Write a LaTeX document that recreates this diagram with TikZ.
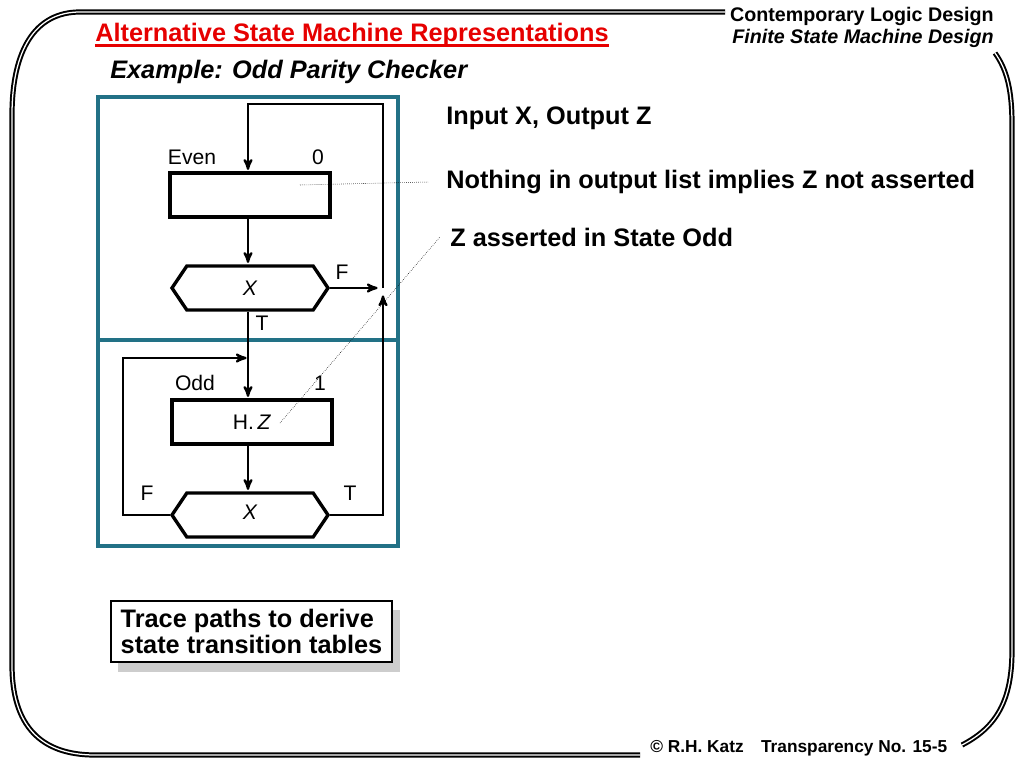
\documentclass[tikz,border=0pt]{standalone}
\usepackage{fontspec}
\setmainfont{Liberation Sans}
\usetikzlibrary{arrows,positioning,shapes.symbols}
\definecolor{boxteal}{RGB}{34,113,134}
\definecolor{titlered}{RGB}{230,0,0}
\definecolor{shadowgray}{RGB}{205,205,205}

\begin{document}
\begin{tikzpicture}[x=0.025cm,y=-0.025cm,>=stealth',
    state box/.style={draw,line width=2.4pt,minimum width=4cm,minimum height=1.1cm,inner sep=0pt,
                      font=\fontsize{15}{16}\selectfont},
    test node/.style={signal,signal to=west and east,signal pointer angle=112,draw,line width=2.4pt,
                      minimum width=3.9cm,minimum height=1.1cm,inner sep=0pt,font=\fontsize{15}{16}\selectfont\itshape},
    flow/.style={line width=1.6pt,shorten >=1pt},
    note/.style={densely dotted,thin},
    big text/.style={font=\fontsize{18}{21}\selectfont\bfseries,anchor=west,inner sep=0pt},
    lbl/.style={font=\fontsize{15}{16}\selectfont,inner sep=0pt},
    frame line/.style={line width=1.4pt,double=white,double distance=0.9pt}]

  \useasboundingbox (0,0) rectangle (1024,768);

  % slide frame
  \draw[frame line] (725,12) -- (80,12) .. controls (35,12) and (12,50) .. (12,115)
      -- (12,665) .. controls (12,725) and (40,755) .. (95,755) -- (640,755);
  \draw[frame line] (995,53) .. controls (1007,70) and (1012,90) .. (1012,125)
      -- (1012,650) .. controls (1012,700) and (997,727) .. (962,745);

  % header, title, footer
  \node[font=\fontsize{14}{15.6}\selectfont\bfseries,align=right,anchor=north east,inner sep=0pt] (hdr) at (994,7)
      {Contemporary Logic Design\\{\itshape Finite State Machine Design}};
  \node[big text,text=titlered] (title) at (95,35) {Alternative State Machine Representations};
  \draw[titlered,line width=1.5pt] ([yshift=0.04cm]title.south west) -- ([yshift=0.04cm]title.south east);
  \node[big text,font=\fontsize{18}{21}\selectfont\bfseries\itshape] (example) at (110,72) {Example: Odd Parity Checker};
  \node[font=\fontsize{12.3}{14}\selectfont\bfseries,anchor=west,inner sep=0pt] (foot) at (650,748)
      {© R.H. Katz\hspace{1em}Transparency No. 15-5};

  % state blocks
  \draw[boxteal,line width=2.4pt] (98,97) rectangle (398,340);
  \draw[boxteal,line width=2.4pt] (98,340) rectangle (398,546);

  \node[state box] (evenbox) at (250,195) {};
  \node[test node] (hexE) at (250,288) {X};
  \node[state box] (oddbox) at (252,422) {H.\,\textit{Z}};
  \node[test node] (hexO) at (250,515) {\raisebox{0.12cm}{X}};

  \node[lbl] (evenname) at (192,157) {Even};
  \node[lbl] (evenout) at (318,157) {0};
  \node[lbl] (oddname) at (195,383) {Odd};
  \node[lbl] (oddout) at (320,383) {1};
  \node[lbl] (fE) at (342,272) {F};
  \node[lbl] (tE) at (262,323) {T};
  \node[lbl] (fO) at (147,493) {F};
  \node[lbl] (tO) at (350,493) {T};

  \coordinate (jn) at (383,288);
  \coordinate (topL) at (248,104);
  \coordinate (lp) at (123,358);
  \coordinate (lm) at (248,358);

  \draw[flow,->] (hexE.east) -- ([xshift=-0.1cm]jn);
  \draw[flow,->] (hexO.east) -| ([yshift=-0.15cm]jn);
  \draw[flow,->] (jn) |- (topL) -- (topL |- evenbox.north);
  \draw[flow,->] (evenbox.south -| topL) -- (topL |- hexE.north);
  \draw[flow,->] (topL |- hexE.south) -- (topL |- oddbox.north);
  \draw[flow,->] (hexO.west) -| (lp) -- (lm);
  \draw[flow,->] (oddbox.south -| topL) -- (topL |- hexO.north);

  % notes
  \node[big text] (inp) at (446,118) {Input X, Output Z};
  \node[big text] (nothing) at (446,182) {Nothing in output list implies Z not asserted};
  \node[big text] (zodd) at (450,237) {Z asserted in State Odd};
  \coordinate (evenpt) at (300,185);
  \coordinate (oddpt) at (280,423);
  \draw[note] (evenpt) -- ([xshift=-0.45cm]nothing.west);
  \draw[note] (oddpt) -- ([xshift=-0.25cm]zodd.west);

  % trace box
  \fill[shadowgray] (118,610) rectangle (400,672);
  \node[draw,line width=1pt,fill=white,align=left,inner sep=0pt,minimum width=7.025cm,minimum height=1.525cm,
        font=\fontsize{18}{18.5}\selectfont\bfseries] (trace) at (251.5,631.5)
      {Trace paths to derive\\state transition tables};
\end{tikzpicture}
\end{document}
